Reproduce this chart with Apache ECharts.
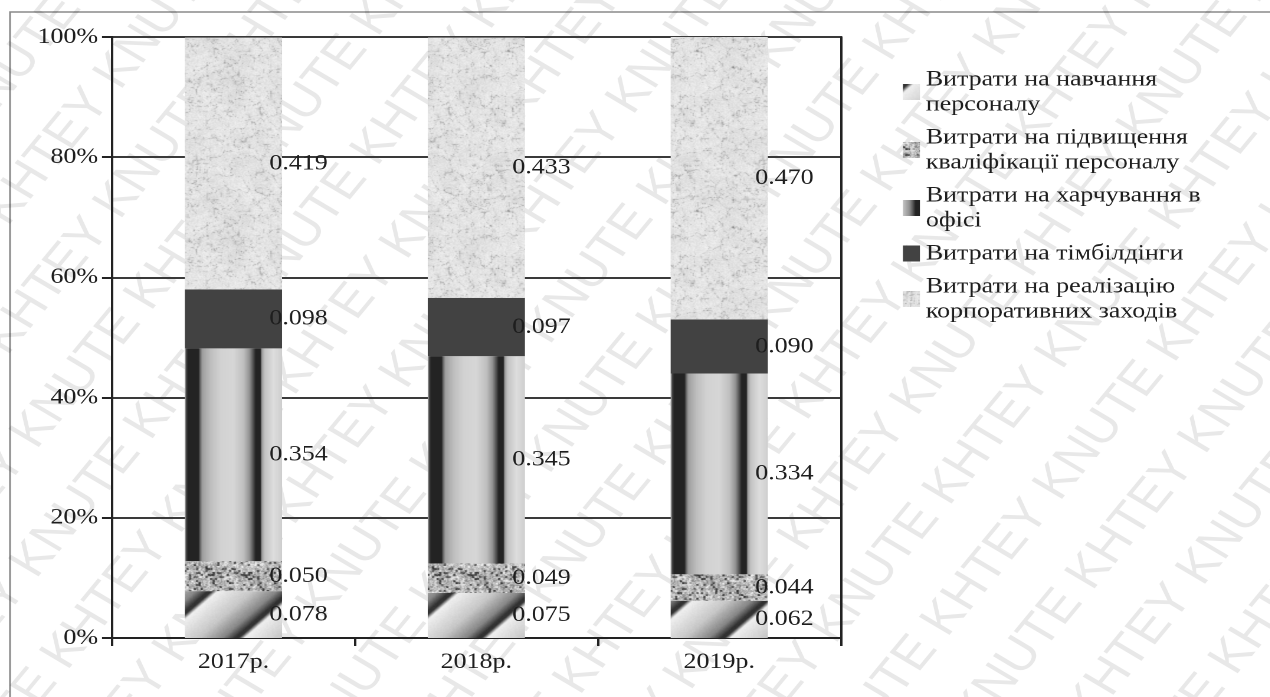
<!DOCTYPE html>
<html>
<head>
<meta charset="utf-8">
<script src="https://cdn.jsdelivr.net/npm/echarts@6/dist/echarts.min.js"></script>
<style>
  html, body { margin: 0; padding: 0; background: #fff; overflow: hidden; }
  #wrap { width: 1270px; height: 697px; overflow: hidden; position: relative; background: #fff; }
  #chart { position: absolute; left: 0; top: 0; height: 697px; transform-origin: 0 0; }
</style>
</head>
<body>
<div id="wrap"><div id="chart"></div></div>
<script>
// ---- data ----
const categories = ['2017р.', '2018р.', '2019р.'];
const seriesNames = [
  'Витрати на навчання\nперсоналу',
  'Витрати на підвищення\nкваліфікації персоналу',
  'Витрати на харчування в\nофісі',
  'Витрати на тімбілдінги',
  'Витрати на реалізацію\nкорпоративних заходів'
];
const training      = [0.078, 0.075, 0.062];
const qualification = [0.050, 0.049, 0.044];
const food          = [0.354, 0.345, 0.334];
const teambuilding  = [0.098, 0.097, 0.090];
const corporate     = [0.419, 0.433, 0.470];
const yTickValues   = [0, 0.2, 0.4, 0.6, 0.8, 1];

// ---- layout ----
const SX = 1.18;                 // the drawing is widened horizontally by this factor
const W = 1270 / SX, H = 697;
const chartEl = document.getElementById('chart');
chartEl.style.width = W + 'px';
chartEl.style.transform = 'scaleX(' + SX + ')';
const X = v => v / SX;           // page px -> chart px (horizontal only)

const gridLeft = X(112), gridRightEdge = X(841), gridTop = 37, axisY = 638;
const band = (gridRightEdge - gridLeft) / categories.length;
const SERIF = '"Liberation Serif", "Times New Roman", serif';
const TEXT = '#1e1e1e';

// ---- texture helpers ----
function hash(x, y, s) {
  let h = Math.imul(x | 0, 374761393) ^ Math.imul(y | 0, 668265263) ^ Math.imul(s | 0, 2246822519);
  h = Math.imul(h ^ (h >>> 13), 1274126177);
  h ^= h >>> 16;
  return (h >>> 0) / 4294967296;
}
function vnoise(x, y, cell, period, seed) {
  const gx = Math.floor(x / cell), gy = Math.floor(y / cell);
  const fx = x / cell - gx, fy = y / cell - gy;
  const sx = fx * fx * (3 - 2 * fx), sy = fy * fy * (3 - 2 * fy);
  const w = i => ((i % period) + period) % period;
  const a = hash(w(gx), w(gy), seed), b = hash(w(gx + 1), w(gy), seed);
  const c = hash(w(gx), w(gy + 1), seed), d = hash(w(gx + 1), w(gy + 1), seed);
  return a + (b - a) * sx + (c - a) * sy + (a - b - c + d) * sx * sy;
}
function interp(keys, u) {
  if (u <= keys[0][0]) return keys[0][1];
  for (let i = 1; i < keys.length; i++) {
    if (u <= keys[i][0]) {
      const [u0, g0] = keys[i - 1], [u1, g1] = keys[i];
      return g0 + (g1 - g0) * (u - u0) / (u1 - u0);
    }
  }
  return keys[keys.length - 1][1];
}
function tile(w, h, shade) {
  const c = document.createElement('canvas');
  c.width = w; c.height = h;
  const ctx = c.getContext('2d');
  const img = ctx.createImageData(w, h);
  for (let y = 0; y < h; y++) {
    for (let x = 0; x < w; x++) {
      const g = Math.max(0, Math.min(255, Math.round(shade(x, y))));
      const i = (y * w + x) * 4;
      img.data[i] = img.data[i + 1] = img.data[i + 2] = g;
      img.data[i + 3] = 255;
    }
  }
  ctx.putImageData(img, 0, 0);
  return c;
}

// diagonal cylinders (training)
const diagKeys = [[0, 50], [0.05, 50], [0.12, 240], [0.55, 200], [0.85, 135], [0.95, 80], [1, 50]];
const diagTile = tile(210, 70, (x, y) => {
  const t = ((((x + y - 35) % 70) + 70) % 70) / 70;
  return interp(diagKeys, t) + (hash(x, y, 5) - 0.5) * 6;
});
const diagFill = { image: diagTile, repeat: 'repeat', x: gridLeft, y: axisY, scaleX: band / 210 };

// fine speckle (qualification)
const speckTile = tile(96, 96, (x, y) => {
  const n1 = hash(x, y, 7), n2 = hash(x >> 1, y >> 1, 11), n3 = vnoise(x, y, 12, 8, 3);
  let g = 95 + 170 * (0.4 * n1 + 0.4 * n2 + 0.2 * n3);
  if (n2 < 0.16) g -= 70;
  return g;
});
const speckFill = { image: speckTile, repeat: 'repeat' };

// vertical cylinders (food); one tile per category band, bar sits in its middle 40 %
const cylKeys = [[-40, 200], [0, 140], [1, 60], [3, 35], [13, 35], [15, 110], [17, 160], [25, 190],
  [35, 210], [48, 214], [58, 192], [64, 145], [68, 75], [70, 35], [75, 35], [76, 150], [79, 195],
  [88, 222], [97, 205], [140, 200]];
const cylTile = tile(240, 4, (x) => interp(cylKeys, (x - 72) * 97 / 96));
const cylFill = { image: cylTile, repeat: 'repeat', x: gridLeft, y: 0, scaleX: band / 240 };

// marble (corporate events)
const marbleTile = tile(160, 160, (x, y) => {
  let turb = 0, amp = 1, tot = 0;
  [[20, 8], [10, 16], [5, 32], [2.5, 64]].forEach(([cell, per], k) => {
    turb += amp * Math.abs(vnoise(x, y, cell, per, 20 + k) - 0.5) * 2;
    tot += amp; amp *= 0.6;
  });
  turb /= tot;
  const v1 = Math.sin(2 * Math.PI * (x + 2 * y) / 160 * 2 + turb * 6);
  const v2 = Math.sin(2 * Math.PI * (2 * x - y) / 160 * 3 + turb * 5);
  let g = 236 - 55 * Math.pow(1 - Math.abs(v1), 14) - 40 * Math.pow(1 - Math.abs(v2), 18) - 22 * turb;
  g -= 45 * Math.pow(Math.max(0, vnoise(x, y, 3, 53.34, 31) - 0.72) / 0.28, 2);
  return g + (hash(x, y, 13) - 0.5) * 16;
});
const marbleFill = { image: marbleTile, repeat: 'repeat' };

const fills = [diagFill, speckFill, cylFill, '#424242', marbleFill];
const seriesData = [training, qualification, food, teambuilding, corporate];

// ---- faint diagonal watermark lettering ----
function watermark() {
  const rows = [];
  for (let k = -12; k <= 12; k++) {
    const words = [];
    for (let j = 0; j < 16; j++) words.push((j + k) % 2 === 0 ? 'KNUTE' : 'KHTEY');
    rows.push({
      type: 'text',
      x: -1150 + (k % 2) * 60,
      y: k * 74,
      style: {
        text: words.join(' '),
        fill: 'rgba(0,0,0,0.09)',
        font: '46px "Liberation Sans", Arial, sans-serif',
        verticalAlign: 'middle'
      }
    });
  }
  return {
    type: 'group', silent: true, z: 100,
    x: W / 2, y: H / 2,
    rotation: 55 * Math.PI / 180,
    children: rows
  };
}

const chart = echarts.init(chartEl, null, { renderer: 'canvas', devicePixelRatio: 2 });
chart.setOption({
  animation: false,
  backgroundColor: '#fff',
  textStyle: { fontFamily: SERIF },
  grid: { left: gridLeft, right: W - gridRightEdge, top: gridTop, bottom: H - axisY, containLabel: false },
  legend: {
    orient: 'vertical',
    left: X(897), top: 62,
    icon: 'rect',
    itemWidth: X(17), itemHeight: 16, itemGap: 8,
    selectedMode: false,
    textStyle: { fontFamily: SERIF, fontSize: 22, lineHeight: 25, color: TEXT },
    data: seriesNames
  },
  xAxis: {
    type: 'category',
    data: categories,
    axisLine: { show: true, lineStyle: { color: '#222', width: 2 } },
    axisTick: { show: true, length: 8, lineStyle: { color: '#222', width: 2 } },
    axisLabel: { fontFamily: SERIF, fontSize: 22, color: TEXT, margin: 13 }
  },
  yAxis: [{
    type: 'value', min: 0, max: 1, interval: 0.2,
    axisLine: { show: true, lineStyle: { color: '#222', width: 2 } },
    axisTick: { show: true, length: X(10), lineStyle: { color: '#222', width: 2 } },
    axisLabel: {
      fontFamily: SERIF, fontSize: 22, color: TEXT, margin: X(14),
      formatter: v => yTickValues.some(t => Math.abs(t - v) < 1e-9) ? Math.round(v * 100) + '%' : ''
    },
    splitLine: { show: true, lineStyle: { color: '#3a3a3a', width: 2 } }
  }, {
    type: 'value', min: 0, max: 1, interval: 0.2, position: 'right',
    axisLine: { show: true, lineStyle: { color: '#222', width: 2 } },
    axisTick: { show: false }, axisLabel: { show: false }, splitLine: { show: false }
  }],
  series: seriesNames.map((name, i) => ({
    name,
    type: 'bar',
    stack: 'share',
    barWidth: '40%',
    data: seriesData[i],
    itemStyle: { color: fills[i] },
    emphasis: { disabled: true },
    label: {
      show: true,
      position: ['87%', '50%'],
      align: 'left',
      verticalAlign: 'middle',
      fontFamily: SERIF,
      fontSize: 22,
      color: TEXT,
      formatter: p => p.value.toFixed(3)
    }
  })),
  graphic: [
    {
      type: 'rect', silent: true, z: 0,
      shape: { x: X(10), y: 12, width: W, height: H },
      style: { fill: 'none', stroke: '#8a8a8a', lineWidth: 1.5 }
    },
    watermark()
  ]
});
</script>
</body>
</html>
